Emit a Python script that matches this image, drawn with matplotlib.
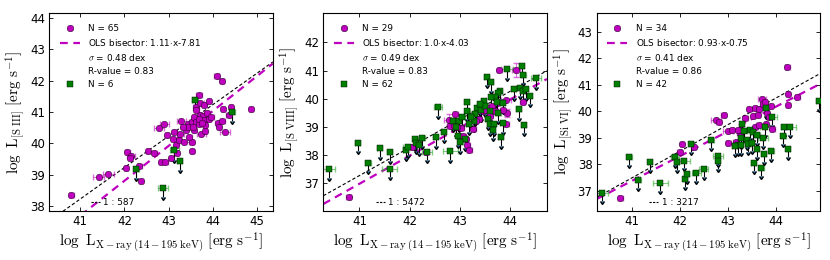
import numpy as np
import matplotlib
matplotlib.use('Agg')
import matplotlib.pyplot as plt
from matplotlib.lines import Line2D

plt.rcParams['mathtext.fontset'] = 'cm'
plt.rcParams['font.family'] = 'DejaVu Sans'

# ---- panel 1 : [S III] ----
p1_det_x = [40.80, 41.42, 41.64, 42.03, 42.07, 42.15, 42.13, 42.34, 42.38, 42.53,
            42.68, 42.84, 42.93, 42.78, 42.90, 42.97, 43.06, 43.10, 43.13, 43.17,
            43.18, 43.23, 43.27, 43.29, 43.36, 43.40, 43.45, 43.52, 43.53, 43.52,
            43.58, 43.58, 43.61, 43.63, 43.68, 43.68, 43.71, 43.72, 43.74, 43.77,
            43.80, 43.81, 43.83, 43.86, 43.91, 43.91, 44.09, 44.11, 44.14, 44.21,
            44.22, 44.23, 44.28, 44.36, 44.42, 44.87, 43.44, 43.63, 43.97, 43.82,
            43.33, 43.55, 43.47, 43.68, 43.75]
p1_det_y = [38.36, 38.93, 39.03, 39.21, 39.74, 39.60, 39.55, 39.27, 38.81, 39.76,
            39.70, 39.40, 39.40, 40.50, 40.61, 40.27, 39.54, 40.13, 40.35, 39.94,
            39.70, 40.12, 40.31, 40.70, 40.06, 40.42, 40.61, 40.06, 39.76, 40.67,
            40.83, 40.44, 41.17, 40.69, 40.61, 41.54, 40.92, 41.28, 40.30, 40.87,
            40.73, 41.21, 40.38, 40.97, 41.35, 40.77, 42.16, 40.66, 40.51, 42.00,
            40.70, 41.08, 40.36, 40.89, 41.16, 41.10, 40.51, 41.05, 40.83, 40.59,
            40.51, 40.51, 40.22, 40.78, 40.65]
p1_det_xerr = [0.05, 0.12, 0.12, 0.05, 0.05, 0.10, 0.05, 0.05, 0.05, 0.05,
               0.05, 0.05, 0.05, 0.12, 0.10, 0.05, 0.05, 0.05, 0.05, 0.05,
               0.05, 0.05, 0.08, 0.10, 0.12, 0.05, 0.05, 0.05, 0.05, 0.05,
               0.05, 0.05, 0.05, 0.05, 0.05, 0.07, 0.05, 0.08, 0.10, 0.05,
               0.05, 0.05, 0.05, 0.05, 0.05, 0.05, 0.05, 0.05, 0.05, 0.05,
               0.05, 0.05, 0.12, 0.05, 0.05, 0.05, 0.05, 0.05, 0.05, 0.05,
               0.05, 0.05, 0.05, 0.05, 0.05]
p1_lim_x = [42.27, 43.13, 43.25, 42.87, 43.60, 44.44]
p1_lim_y = [39.20, 39.78, 39.45, 38.58, 41.38, 41.00]
p1_lim_xerr = [0.05, 0.10, 0.05, 0.12, 0.07, 0.06]

# ---- panel 2 : [S VIII] ----
p2_det_x = [40.79, 42.04, 42.33, 42.78, 42.80, 42.88, 42.91, 43.03, 43.07, 43.12,
            43.15, 43.19, 43.27, 43.38, 43.53, 43.63, 43.70, 43.78, 43.91, 43.92,
            43.93, 44.12, 44.25, 43.45, 43.60, 43.32, 43.50, 43.85, 42.95]
p2_det_y = [36.50, 38.28, 38.10, 39.25, 39.04, 39.07, 39.44, 38.97, 38.68, 38.56,
            38.36, 38.18, 38.92, 39.28, 39.65, 39.73, 39.55, 41.02, 39.97, 39.09,
            39.48, 41.02, 39.88, 39.55, 39.40, 39.20, 39.60, 39.60, 39.00]
p2_det_xerr = [0.05, 0.05, 0.05, 0.10, 0.05, 0.05, 0.05, 0.05, 0.05, 0.05,
               0.05, 0.05, 0.05, 0.05, 0.05, 0.05, 0.05, 0.05, 0.10, 0.05,
               0.05, 0.08, 0.05, 0.05, 0.05, 0.05, 0.05, 0.05, 0.05]
p2_det_yerr = [0.0, 0.0, 0.0, 0.20, 0.0, 0.0, 0.0, 0.0, 0.0, 0.0,
               0.0, 0.0, 0.0, 0.0, 0.0, 0.0, 0.0, 0.0, 0.0, 0.0,
               0.15, 0.25, 0.0, 0.0, 0.0, 0.0, 0.0, 0.0, 0.0]
p2_lim_x = [40.39, 40.97, 41.17, 41.40, 41.60, 41.60, 41.92, 41.96, 42.11, 42.13,
            42.25, 42.35, 42.52, 42.56, 42.68, 42.81, 44.23, 43.93, 43.53, 43.61,
            44.51, 44.26, 43.79, 43.75, 44.19, 44.25, 44.31, 44.39, 44.07, 43.69,
            43.47, 43.14, 43.35, 43.41, 43.15, 43.73, 44.17, 43.30, 43.76, 43.28,
            43.55, 42.87, 42.98, 43.18, 43.59, 43.67, 43.85, 44.27, 42.93, 43.65,
            42.97, 43.81, 43.11, 43.01, 43.50, 43.60, 43.40, 43.22, 43.85, 42.18,
            43.05, 43.62]
p2_lim_y = [37.48, 38.43, 37.72, 38.24, 38.09, 37.50, 38.17, 38.28, 38.55, 38.42,
            38.60, 38.11, 38.63, 39.69, 38.83, 38.13, 41.18, 41.05, 40.77, 40.58,
            40.72, 40.84, 40.28, 40.20, 40.39, 40.27, 40.34, 40.10, 40.34, 40.06,
            39.91, 39.88, 39.67, 39.58, 39.56, 39.88, 39.62, 39.45, 39.50, 39.22,
            39.28, 39.21, 39.21, 39.10, 39.09, 39.09, 39.13, 39.07, 39.00, 38.89,
            38.66, 38.62, 38.55, 38.44, 39.75, 39.55, 39.80, 39.35, 39.85, 38.35,
            39.35, 40.05]
p2_lim_xerr = [0.12, 0.05, 0.06, 0.05, 0.05, 0.15, 0.05, 0.10, 0.05, 0.05,
               0.05, 0.10, 0.05, 0.08, 0.05, 0.15, 0.05, 0.12, 0.05, 0.05,
               0.10, 0.05, 0.05, 0.05, 0.05, 0.05, 0.05, 0.05, 0.05, 0.05,
               0.05, 0.05, 0.05, 0.05, 0.05, 0.05, 0.05, 0.05, 0.05, 0.05,
               0.05, 0.10, 0.05, 0.05, 0.05, 0.05, 0.05, 0.05, 0.05, 0.05,
               0.05, 0.05, 0.05, 0.05, 0.05, 0.05, 0.05, 0.05, 0.05, 0.05,
               0.05, 0.05]

# ---- panel 3 : [Si VI] ----
p3_det_x = [40.76, 42.00, 42.05, 42.30, 42.76, 42.81, 42.92, 43.01, 43.09, 43.01,
            43.17, 43.25, 43.27, 43.37, 43.53, 43.57, 43.58, 43.63, 43.65, 43.65,
            43.71, 43.73, 43.77, 43.80, 43.82, 43.86, 43.90, 43.93, 44.24, 44.26,
            44.26, 44.45, 43.22, 43.45]
p3_det_y = [36.74, 38.48, 38.78, 38.66, 39.67, 39.60, 39.85, 39.26, 39.30, 38.82,
            38.86, 39.17, 39.28, 39.76, 39.82, 40.14, 39.42, 39.87, 40.07, 39.47,
            40.48, 40.27, 40.35, 39.51, 39.95, 39.79, 40.20, 39.32, 41.65, 40.67,
            40.25, 40.54, 39.30, 40.10]
p3_det_xerr = [0.05, 0.05, 0.05, 0.05, 0.10, 0.05, 0.05, 0.10, 0.05, 0.05,
               0.05, 0.05, 0.05, 0.05, 0.05, 0.05, 0.05, 0.05, 0.05, 0.05,
               0.08, 0.05, 0.05, 0.05, 0.05, 0.05, 0.05, 0.05, 0.05, 0.05,
               0.05, 0.05, 0.05, 0.05]
p3_lim_x = [40.39, 40.95, 41.14, 41.38, 41.60, 41.90, 41.94, 42.10, 42.11, 42.15,
            42.35, 42.50, 42.24, 42.66, 42.80, 42.80, 43.21, 43.28, 43.27, 43.30,
            43.41, 43.43, 43.46, 43.51, 43.53, 43.54, 43.61, 43.70, 43.74, 43.75,
            43.77, 43.81, 43.91, 43.93, 44.16, 44.17, 44.26, 44.31, 44.90, 43.15,
            43.62, 43.35]
p3_lim_y = [36.93, 38.28, 37.41, 38.10, 37.31, 38.28, 38.09, 38.15, 37.46, 37.66,
            37.69, 37.84, 38.76, 38.92, 38.32, 38.13, 38.73, 38.75, 38.98, 39.53,
            38.94, 38.78, 39.28, 38.79, 39.23, 38.04, 38.57, 37.85, 38.99, 38.38,
            39.40, 40.14, 38.50, 39.79, 39.06, 39.40, 38.60, 39.42, 40.39, 38.70,
            39.10, 39.25]
p3_lim_xerr = [0.12, 0.05, 0.06, 0.05, 0.15, 0.08, 0.05, 0.12, 0.05, 0.05,
               0.10, 0.10, 0.05, 0.05, 0.10, 0.05, 0.05, 0.05, 0.05, 0.05,
               0.05, 0.05, 0.05, 0.05, 0.05, 0.05, 0.05, 0.05, 0.10, 0.05,
               0.10, 0.05, 0.05, 0.10, 0.05, 0.05, 0.05, 0.12, 0.05, 0.05,
               0.05, 0.05]

# fit parameters / annotations
slopes = [1.11, 1.0, 0.93]
intercepts = [-7.81, -4.03, -0.75]
slope_labels = ['1.11', '1.0', '0.93']
sigmas = [0.48, 0.49, 0.41]
rvalues = [0.83, 0.83, 0.86]
ratios = [587, 5472, 3217]
lines_names = [r'S\ III', r'S\ VIII', r'Si\ VI']

XLIMS = [(40.3, 45.36), (40.28, 44.73), (40.27, 44.93)]
YLIMS = [(37.85, 44.15), (36.0, 43.05), (36.25, 43.7)]
YTICKS = [range(38, 45), range(37, 43), range(37, 44)]
RATIO_POS = [0.15, 0.20, 0.20]

MAG = '#bf00bf'
GRN = '#007f00'


def plot_panel(ax, i, det, lim):
    dx, dy, dxe, dye = det
    lx, ly, lxe = lim
    xl = np.array(XLIMS[i])
    ax.plot(xl, xl - np.log10(ratios[i]), 'k--', lw=0.8, dashes=(3, 2), zorder=1)
    ax.plot(xl, slopes[i] * xl + intercepts[i], '--', color=MAG, lw=1.6, dashes=(3.5, 2.5), zorder=1)

    ax.errorbar(dx, dy, xerr=dxe, yerr=dye, fmt='none', ecolor=MAG, alpha=0.55,
                capsize=2, elinewidth=0.8, zorder=2)
    ax.errorbar(lx, ly, xerr=lxe, fmt='none', ecolor='#33aa33', alpha=0.6,
                capsize=2, elinewidth=0.8, zorder=2)
    ax.errorbar(lx, ly, yerr=0.3, uplims=True, fmt='none', ecolor='k',
                capsize=1.5, elinewidth=0.8, zorder=2)
    ax.plot(dx, dy, 'o', color=MAG, mec='k', mew=0.3, ms=4.8, zorder=3)
    ax.plot(lx, ly, 's', color=GRN, mec='k', mew=0.3, ms=4.2, zorder=3)

    ax.set_xlim(*XLIMS[i])
    ax.set_ylim(*YLIMS[i])
    ax.set_xticks(range(41, int(XLIMS[i][1]) + 1))
    ax.set_yticks(list(YTICKS[i]))
    ax.tick_params(direction='in', top=True, right=True, length=3, width=0.6,
                   labelsize=8.5, pad=3)
    for s in ax.spines.values():
        s.set_linewidth(0.8)

    handles = [
        Line2D([], [], ls='none', marker='o', color=MAG, mec='k', mew=0.3, ms=4.8),
        Line2D([], [], ls='--', color=MAG, lw=1.6, dashes=(3.5, 2.5)),
        Line2D([], [], ls='none'),
        Line2D([], [], ls='none'),
        Line2D([], [], ls='none', marker='s', color=GRN, mec='k', mew=0.3, ms=4.2),
    ]
    labels = [
        f'N = {len(dx)}',
        f'OLS bisector: {slope_labels[i]}$\\cdot$x{intercepts[i]}',
        f'$\\sigma$ = {sigmas[i]} dex',
        f'R-value = {rvalues[i]}',
        f'N = {len(lx)}',
    ]
    leg = ax.legend(handles, labels, loc='upper left', frameon=False, fontsize=6.4,
                    numpoints=1, handlelength=2.2, labelspacing=0.45,
                    borderaxespad=0.8, handletextpad=1.0)
    ax.add_artist(leg)
    h2 = [Line2D([], [], ls='--', color='k', lw=0.8, dashes=(2, 1.2))]
    ax.legend(h2, [f'1 : {ratios[i]}'], loc='lower left', frameon=False, fontsize=6.4,
              handlelength=1.0, handletextpad=0.4,
              bbox_to_anchor=(RATIO_POS[i], -0.02))

    ax.set_xlabel(r'$\log\ \mathrm{L}_{\mathrm{X-ray\ (14-195\ keV)}}\ [\mathrm{erg\ s^{-1}}]$',
                  fontsize=11, labelpad=2)
    ax.set_ylabel(r'$\log\ \mathrm{L}_{[\mathrm{' + lines_names[i] + r'}]}\ [\mathrm{erg\ s^{-1}}]$',
                  fontsize=11, labelpad=2)


def main():
    fig = plt.figure(figsize=(8.3, 2.6), dpi=100)
    lefts = [49.3, 323.3, 596.7]
    dets = [(p1_det_x, p1_det_y, p1_det_xerr, None),
            (p2_det_x, p2_det_y, p2_det_xerr, p2_det_yerr),
            (p3_det_x, p3_det_y, p3_det_xerr, None)]
    lims = [(p1_lim_x, p1_lim_y, p1_lim_xerr),
            (p2_lim_x, p2_lim_y, p2_lim_xerr),
            (p3_lim_x, p3_lim_y, p3_lim_xerr)]
    for i in range(3):
        ax = fig.add_axes([lefts[i] / 830, 49 / 260, 223.5 / 830, 198 / 260])
        plot_panel(ax, i, dets[i], lims[i])
    fig.savefig('out.png', dpi=100, facecolor='white')


if __name__ == '__main__':
    main()
